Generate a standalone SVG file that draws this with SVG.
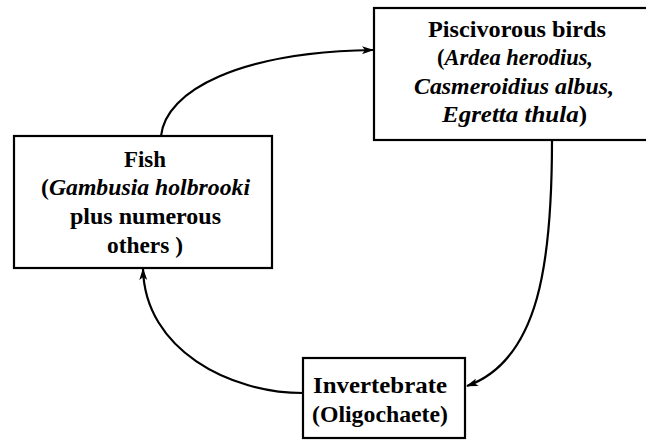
<svg xmlns="http://www.w3.org/2000/svg" width="646" height="441" viewBox="0 0 646 441">
  <style>
    .box { fill: #ffffff; stroke: #000000; stroke-width: 2.2; }
    .lbl { font-size: 23px; font-weight: 700; fill: #000000; }
    .it { font-style: italic; }
    .link { fill: none; stroke: #000000; stroke-width: 2.2; marker-end: url(#head); }
  </style>
  <defs>
    <marker id="head" viewBox="0 0 12 8" refX="11" refY="4" markerWidth="12" markerHeight="8" markerUnits="userSpaceOnUse" orient="auto">
      <path d="M0,0 L12,4 L0,8 L3,4 Z" fill="#000000"/>
    </marker>
  </defs>

  <rect width="646" height="441" fill="#ffffff"/>

  <g id="connectors">
    <path class="link" d="M161,136 C166,90 240,52 373,50"/>
    <path class="link" d="M552,140 C552,260 540,360 467,386"/>
    <path class="link" d="M303,393 C230,393 145,350 143,269"/>
  </g>

  <g font-family="Liberation Serif, DejaVu Serif, serif">
    <g id="birds">
      <rect class="box" x="374" y="8" width="290" height="132"/>
      <text class="lbl" x="428" y="37" textLength="178" lengthAdjust="spacingAndGlyphs">Piscivorous birds</text>
      <text class="lbl" x="437" y="65" textLength="156" lengthAdjust="spacingAndGlyphs">(<tspan class="it">Ardea herodius,</tspan></text>
      <text class="lbl it" x="414" y="94" textLength="200" lengthAdjust="spacingAndGlyphs">Casmeroidius albus,</text>
      <text class="lbl" x="442" y="122" textLength="145" lengthAdjust="spacingAndGlyphs"><tspan class="it">Egretta thula</tspan>)</text>
    </g>

    <g id="fish">
      <rect class="box" x="14" y="136" width="258" height="132"/>
      <text class="lbl" x="124" y="167" textLength="42" lengthAdjust="spacingAndGlyphs">Fish</text>
      <text class="lbl" x="41" y="195" textLength="209" lengthAdjust="spacingAndGlyphs">(<tspan class="it">Gambusia holbrooki</tspan></text>
      <text class="lbl" x="70" y="224" textLength="151" lengthAdjust="spacingAndGlyphs">plus numerous</text>
      <text class="lbl" x="107" y="253" textLength="76" lengthAdjust="spacingAndGlyphs">others )</text>
    </g>

    <g id="invertebrate">
      <rect class="box" x="303" y="358" width="162" height="80"/>
      <text class="lbl" x="313" y="393" textLength="134" lengthAdjust="spacingAndGlyphs">Invertebrate</text>
      <text class="lbl" x="312" y="422" textLength="136" lengthAdjust="spacingAndGlyphs">(Oligochaete)</text>
    </g>
  </g>
</svg>
